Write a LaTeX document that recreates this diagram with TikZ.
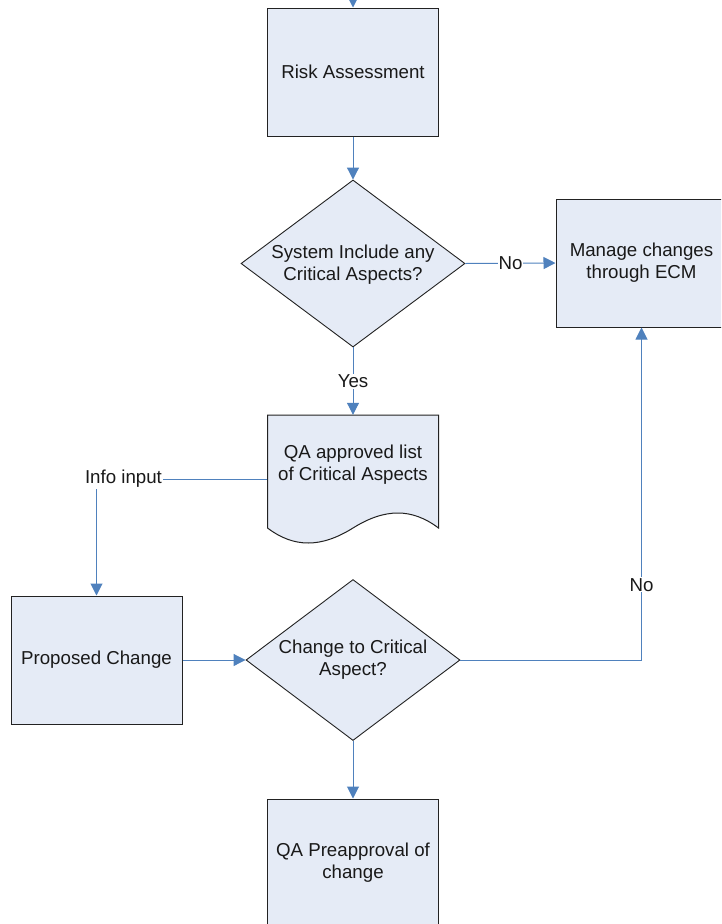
\documentclass[tikz,border=0pt]{standalone}
\usepackage{fontspec}
\setmainfont{Liberation Sans}
\usetikzlibrary{shapes.geometric,arrows.meta}
\definecolor{boxfill}{HTML}{E5EBF6}
\definecolor{conn}{HTML}{4F81BD}
\definecolor{edge}{HTML}{222222}
\begin{document}
\begin{tikzpicture}[x=1pt,y=-1pt,
  every node/.style={font=\fontsize{18.7}{22}\selectfont, text=black!90},
  box/.style={draw=edge, fill=boxfill, line width=1pt, minimum width=171pt, minimum height=128pt, inner sep=0pt, align=center},
  dia/.style={draw=edge, fill=boxfill, line width=0.9pt, diamond, inner sep=0pt},
  txt/.style={align=center, inner sep=0pt},
  link/.style={draw=conn, line width=1pt, -{Triangle[width=12pt,length=12pt]}},
  lbl/.style={fill=white, inner sep=1pt}
]
\clip (0,0) rectangle (721,924);
% nodes
\node[box] (risk) at (353,72) {Risk Assessment};
\node[dia, minimum width=224pt, minimum height=167pt] (d1) at (353,263.5) {};
\node[txt] (d1t) at ([yshift=-1.5pt]d1) {System Include any\\Critical Aspects?};
\node[box] (man) at (641.5,263) {Manage changes\\through ECM};
\path[draw=edge, fill=boxfill, line width=1pt] (267.5,415) -- (438.5,415) -- (438.5,528)
  .. controls (412,508) and (385,508) .. (353,528)
  .. controls (321,548) and (294,548) .. (267.5,528) -- cycle;
\node[txt, minimum width=171pt, minimum height=100pt] (doc) at (353,465) {QA approved list\\of Critical Aspects};
\node[box] (prop) at (96.5,660) {Proposed Change};
\node[dia, minimum width=214pt, minimum height=161pt] (d2) at (353,660) {};
\node[txt] (d2t) at (d2) {Change to Critical\\Aspect?};
\node[box] (qa) at (353,863) {QA Preapproval of\\change};
% connectors
\coordinate (top) at (353,-12);
\draw[link] (top) -- (risk.north);
\draw[link] (risk.south) -- (d1.north);
\draw[link] (d1.east) -- node[lbl]{No} (man.west);
\draw[link] (d1.south) -- node[lbl]{Yes} (doc.north);
\draw[link] ([yshift=-14pt]doc.west) -| (prop.north);
\node[lbl] (info) at (123.5,479) {Info input};
\draw[link] (prop.east) -- (d2.west);
\draw[link] (d2.east) -| node[lbl, pos=0.613]{No} (man.south);
\draw[link] (d2.south) -- (qa.north);
\end{tikzpicture}
\end{document}
